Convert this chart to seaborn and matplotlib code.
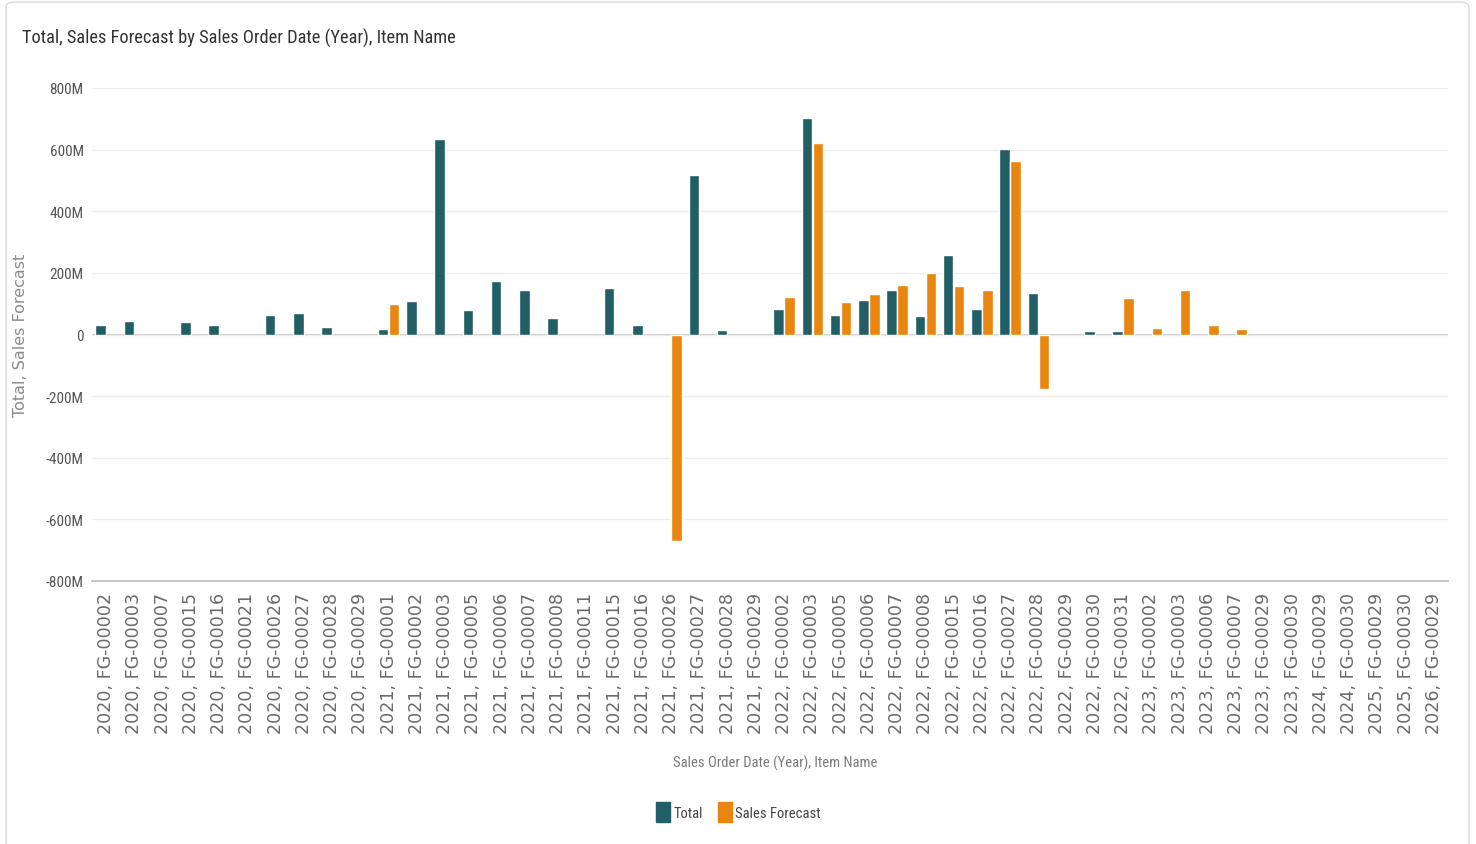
import numpy as np
import pandas as pd
import matplotlib
matplotlib.use("Agg")
import matplotlib.pyplot as plt
from matplotlib import font_manager
from matplotlib.patches import FancyBboxPatch
from matplotlib.lines import Line2D
import seaborn as sns

# ---------------- data (values in millions) ----------------
categories = [
    "2020, FG-00002", "2020, FG-00003", "2020, FG-00007", "2020, FG-00015", "2020, FG-00016",
    "2020, FG-00021", "2020, FG-00026", "2020, FG-00027", "2020, FG-00028", "2020, FG-00029",
    "2021, FG-00001", "2021, FG-00002", "2021, FG-00003", "2021, FG-00005", "2021, FG-00006",
    "2021, FG-00007", "2021, FG-00008", "2021, FG-00011", "2021, FG-00015", "2021, FG-00016",
    "2021, FG-00026", "2021, FG-00027", "2021, FG-00028", "2021, FG-00029",
    "2022, FG-00002", "2022, FG-00003", "2022, FG-00005", "2022, FG-00006", "2022, FG-00007",
    "2022, FG-00008", "2022, FG-00015", "2022, FG-00016", "2022, FG-00027", "2022, FG-00028",
    "2022, FG-00029", "2022, FG-00030", "2022, FG-00031",
    "2023, FG-00002", "2023, FG-00003", "2023, FG-00006", "2023, FG-00007", "2023, FG-00029",
    "2023, FG-00030", "2024, FG-00029", "2024, FG-00030", "2025, FG-00029", "2025, FG-00030",
    "2026, FG-00029",
]
N = None
total = [
    32, 43, N, 41, 32, N, 63, 71, 25, N,
    19, 109, 635, 79, 174, 143, 52, N, 152, 32, N, 517, 16, N,
    82, 702, 62, 111, 145, 61, 258, 82, 602, 136, N, 12, 12,
    N, N, N, N, N, N, N, N, N, N, N,
]
sales_forecast = [
    N, N, N, N, N, N, N, N, N, N,
    99, N, N, N, N, N, N, N, N, N, -670, N, N, N,
    121, 620, 104, 131, 161, 199, 158, 145, 564, -178, N, N, 117,
    20, 144, 31, 17, N, N, N, N, N, N, N,
]
series_names = ["Total", "Sales Forecast"]
y_ticks = [-800, -600, -400, -200, 0, 200, 400, 600, 800]

TEAL = "#215e66"
ORANGE = "#e8860f"


def pick(cands):
    for c in cands:
        try:
            font_manager.findfont(c, fallback_to_default=False)
            return c
        except Exception:
            pass
    return "DejaVu Sans"


NARROW = pick(["Liberation Sans Narrow", "Roboto Condensed", "Open Sans Condensed",
               "Roboto", "Liberation Sans"])

sns.set_theme(style="white")
plt.rcParams["font.family"] = ["DejaVu Sans"]

W, H = 1476, 845
fig = plt.figure(figsize=(W / 100, H / 100), dpi=100)
fig.patch.set_facecolor("white")

# card border
card = FancyBboxPatch((6 / W, -0.02), (1469 - 6) / W, 1.02 - 3 / H,
                      boxstyle="round,pad=0,rounding_size=0.006",
                      transform=fig.transFigure, facecolor="none",
                      edgecolor="#d9d9d9", lw=1.0)
fig.patches.append(card)

ax_l, ax_r, ax_t, ax_b = 92, 1448, 89, 582
ax = fig.add_axes([ax_l / W, 1 - ax_b / H, (ax_r - ax_l) / W, (ax_b - ax_t) / H])

df = pd.DataFrame({
    "cat": categories * 2,
    "series": [series_names[0]] * len(categories) + [series_names[1]] * len(categories),
    "value": [np.nan if v is None else v for v in total + sales_forecast],
})

sns.barplot(data=df, x="cat", y="value", hue="series", order=categories,
            hue_order=series_names, palette=[TEAL, ORANGE], width=0.78, gap=0.06,
            errorbar=None, saturation=1, legend=False, ax=ax)

ax.set_xlim(-0.5, len(categories) - 0.5)
ax.set_ylim(-800, 800)
ax.set_yticks(y_ticks)
ax.set_yticklabels(["0" if v == 0 else f"{v}M" for v in y_ticks],
                   fontsize=11, color="#555555", family=NARROW)
ax.set_xticks(range(len(categories)))
ax.set_xticklabels(categories, rotation=90, fontsize=12.6, color="#6a6a6a",
                   family="DejaVu Sans")
ax.tick_params(axis="y", length=0, pad=6)
ax.tick_params(axis="x", length=0, pad=8)

ax.yaxis.grid(True, color="#ececec", lw=1)
ax.xaxis.grid(False)
ax.set_axisbelow(True)
ax.axhline(0, color="#c4c4c4", lw=1.3, zorder=0.5)
for s in ["left", "right", "top"]:
    ax.spines[s].set_visible(False)
ax.spines["bottom"].set_color("#c4c4c4")
ax.spines["bottom"].set_linewidth(1.3)

ax.set_ylabel("Total, Sales Forecast", fontsize=11.5, color="#8a8a8a", family="DejaVu Sans")
ax.yaxis.set_label_coords((28 - ax_l) / (ax_r - ax_l), (ax_b - 335) / (ax_b - ax_t))
ax.set_xlabel("Sales Order Date (Year), Item Name", fontsize=10.5, color="#7a7a7a", family=NARROW)
ax.xaxis.set_label_coords((775 - ax_l) / (ax_r - ax_l), (ax_b - 756) / (ax_b - ax_t))

fig.text(22 / W, 1 - 38 / H, "Total, Sales Forecast by Sales Order Date (Year), Item Name",
         fontsize=13.2, color="#333333", family=NARROW, ha="left", va="center")

tall_sq = [(-0.36, -0.5), (0.36, -0.5), (0.36, 0.5), (-0.36, 0.5), (-0.36, -0.5)]
handles = [Line2D([], [], marker=tall_sq, linestyle="none", markersize=15,
                  markerfacecolor=c, markeredgecolor=c) for c in (TEAL, ORANGE)]
fig.legend(handles, series_names, loc="center", ncol=2,
           bbox_to_anchor=(738 / W, 1 - 814 / H), frameon=False,
           prop={"family": NARROW, "size": 10.5}, labelcolor="#444444",
           handletextpad=0.2, columnspacing=1.0, handlelength=1.0)

fig.savefig("out.png", dpi=100, facecolor="white")
